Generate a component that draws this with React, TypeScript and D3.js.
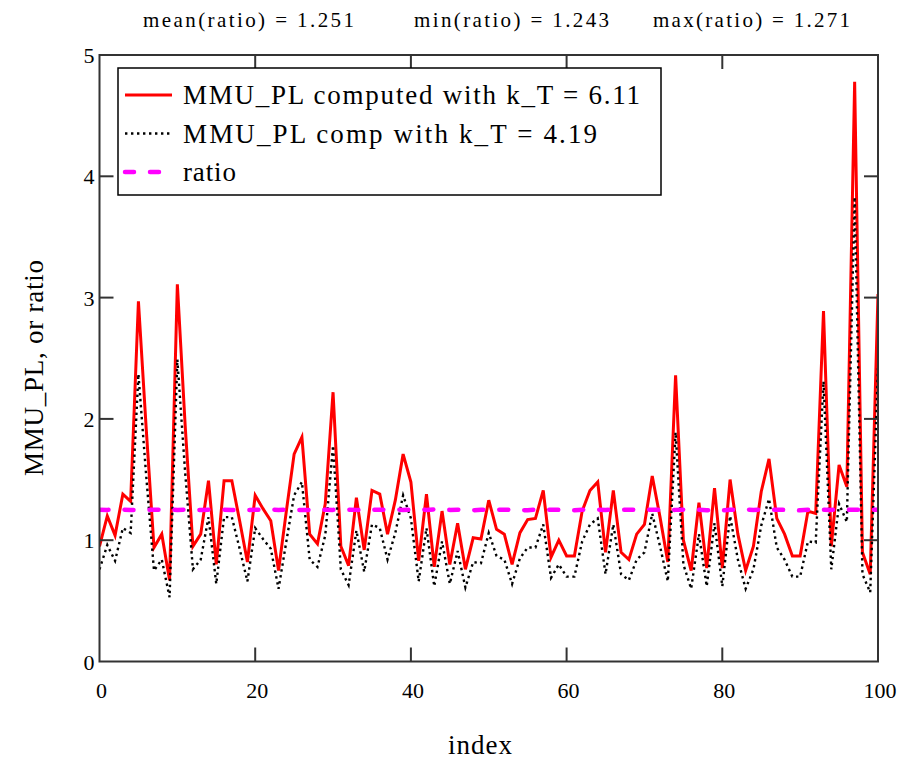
import React from 'react'
import * as d3 from 'd3'

// MMU_PL computed with k_T = 6.11 (red), one value per index 0..100
const mmuHigh = [
  0.95, 1.2, 1.04, 1.38, 1.32, 2.97, 1.92, 0.94, 1.05, 0.67,
  3.11, 1.95, 0.95, 1.05, 1.49, 0.8, 1.49, 1.49, 1.16, 0.82,
  1.37, 1.26, 1.16, 0.75, 1.24, 1.71, 1.85, 1.05, 0.97, 1.3,
  2.22, 0.95, 0.79, 1.35, 0.92, 1.41, 1.38, 1.05, 1.33, 1.71,
  1.48, 0.83, 1.38, 0.78, 1.24, 0.8, 1.14, 0.76, 1.02, 1.01,
  1.33, 1.09, 1.05, 0.8, 1.06, 1.17, 1.18, 1.41, 0.86, 1.0,
  0.87, 0.87, 1.24, 1.41, 1.48, 0.9, 1.41, 0.9, 0.84, 1.05,
  1.13, 1.53, 1.19, 0.82, 2.36, 1.0, 0.75, 1.31, 0.77, 1.43,
  0.77, 1.5, 1.05, 0.75, 0.95, 1.4, 1.67, 1.18, 1.05, 0.87,
  0.87, 1.24, 1.22, 2.89, 0.95, 1.62, 1.44, 4.78, 0.9, 0.72,
  3.03,
]

// MMU_PL comp with k_T = 4.19 (black dotted)
const mmuLow = [
  0.76, 0.96, 0.83, 1.10, 1.06, 2.37, 1.53, 0.75, 0.84, 0.53,
  2.49, 1.56, 0.76, 0.84, 1.19, 0.64, 1.19, 1.19, 0.93, 0.66,
  1.10, 1.01, 0.93, 0.60, 0.99, 1.37, 1.48, 0.84, 0.78, 1.04,
  1.78, 0.76, 0.63, 1.08, 0.74, 1.13, 1.10, 0.84, 1.06, 1.37,
  1.18, 0.66, 1.10, 0.62, 0.99, 0.64, 0.91, 0.61, 0.82, 0.81,
  1.06, 0.87, 0.84, 0.64, 0.85, 0.94, 0.94, 1.13, 0.69, 0.80,
  0.70, 0.70, 0.99, 1.13, 1.18, 0.72, 1.13, 0.72, 0.67, 0.84,
  0.90, 1.22, 0.95, 0.66, 1.89, 0.80, 0.60, 1.05, 0.62, 1.14,
  0.62, 1.20, 0.84, 0.60, 0.76, 1.12, 1.34, 0.94, 0.84, 0.70,
  0.70, 0.99, 0.98, 2.31, 0.76, 1.30, 1.15, 3.83, 0.72, 0.57,
  2.42,
]

// ratio of the two, nearly flat
const ratio = [
  1.251, 1.250, 1.252, 1.251, 1.249, 1.250, 1.252, 1.251, 1.250, 1.253,
  1.249, 1.251, 1.250, 1.250, 1.252, 1.250, 1.251, 1.249, 1.250, 1.248,
  1.251, 1.250, 1.252, 1.250, 1.251, 1.250, 1.249, 1.250, 1.247, 1.251,
  1.250, 1.252, 1.251, 1.250, 1.246, 1.250, 1.251, 1.250, 1.252, 1.250,
  1.251, 1.253, 1.250, 1.254, 1.251, 1.250, 1.252, 1.250, 1.247, 1.251,
  1.250, 1.251, 1.252, 1.250, 1.249, 1.247, 1.253, 1.250, 1.251, 1.250,
  1.246, 1.247, 1.251, 1.250, 1.252, 1.250, 1.251, 1.250, 1.251, 1.250,
  1.253, 1.251, 1.250, 1.247, 1.250, 1.252, 1.250, 1.251, 1.247, 1.250,
  1.246, 1.251, 1.250, 1.252, 1.250, 1.251, 1.250, 1.252, 1.250, 1.247,
  1.246, 1.251, 1.247, 1.251, 1.250, 1.252, 1.250, 1.251, 1.250, 1.253,
  1.251,
]

const xTicks = [0, 20, 40, 60, 80, 100]
const yTicks = [0, 1, 2, 3, 4, 5]

const stats = [
  {label: 'mean(ratio) = 1.251', x: 143, len: 211},
  {label: 'min(ratio) = 1.243', x: 414, len: 195},
  {label: 'max(ratio) = 1.271', x: 653, len: 197},
]

const legendItems = [
  {label: 'MMU_PL computed with k_T = 6.11', len: 457, stroke: '#ff0000', width: 3, dash: null, cap: 'butt'},
  {label: 'MMU_PL comp with k_T = 4.19', len: 414, stroke: '#000000', width: 2.4, dash: '2.4,3.6', cap: 'butt'},
  {label: 'ratio', len: 53, stroke: '#ff00ff', width: 4.5, dash: '9,16', cap: 'round'},
]

const width = 902
const height = 764
const margin = {top: 55, right: 24, bottom: 102.5, left: 99.5}
const font = '"Liberation Serif", "Times New Roman", serif'

export default function App() {
  const x = d3.scaleLinear().domain([0, 100]).range([margin.left, width - margin.right])
  const y = d3.scaleLinear().domain([0, 5]).range([height - margin.bottom, margin.top])
  const idx = d3.range(mmuHigh.length)

  const line = d3.line<number>()
    .x(i => x(i))

  const redPath = line.y(i => y(mmuHigh[i]))(idx)
  const blackPath = line.y(i => y(mmuLow[i]))(idx)
  const ratioPath = line.y(i => y(ratio[i]))(idx)

  const [x0, x1] = x.range()
  const [y0, y1] = y.range()
  const tickLen = 14

  return (
    <svg width={width} height={height} style={{position: 'absolute', left: 0, top: 0, background: '#fff'}}
         fontFamily={font}>
      <defs>
        <clipPath id="plot-clip">
          <rect x={x0} y={y1} width={x1 - x0} height={y0 - y1}/>
        </clipPath>
      </defs>

      {stats.map(s => (
        <text key={s.label} x={s.x} y={27} fontSize={21} textLength={s.len} lengthAdjust="spacing">{s.label}</text>
      ))}

      <g clipPath="url(#plot-clip)" fill="none">
        <path d={redPath!} stroke="#ff0000" strokeWidth={3} strokeLinejoin="miter"/>
        <path d={blackPath!} stroke="#000" strokeWidth={2.4} strokeDasharray="2.4,3.6"/>
        <path d={ratioPath!} stroke="#ff00ff" strokeWidth={4.5} strokeDasharray="9,16" strokeLinecap="round"/>
      </g>

      {/* frame and inner ticks */}
      <rect x={x0} y={y1} width={x1 - x0} height={y0 - y1} fill="none" stroke="#333" strokeWidth={2}/>
      <g stroke="#333" strokeWidth={2}>
        {yTicks.slice(1, -1).map(t => (
          <g key={'y' + t}>
            <line x1={x0} x2={x0 + tickLen} y1={y(t)} y2={y(t)}/>
            <line x1={x1} x2={x1 - tickLen} y1={y(t)} y2={y(t)}/>
          </g>
        ))}
        {xTicks.slice(1, -1).map(t => (
          <g key={'x' + t}>
            <line x1={x(t)} x2={x(t)} y1={y0} y2={y0 - tickLen}/>
            <line x1={x(t)} x2={x(t)} y1={y1} y2={y1 + tickLen}/>
          </g>
        ))}
      </g>

      <g fontSize={22}>
        {yTicks.map(t => (
          <text key={'yl' + t} x={x0 - 5} y={y(t) + 8} textAnchor="end">{t}</text>
        ))}
        {xTicks.map(t => (
          <text key={'xl' + t} x={x(t) + 2} y={698} textAnchor="middle">{t}</text>
        ))}
      </g>

      <text x={480} y={754} fontSize={27} textAnchor="middle" textLength={64} lengthAdjust="spacing">index</text>
      <text transform="translate(43,368) rotate(-90)" fontSize={27} textAnchor="middle"
            textLength={216} lengthAdjust="spacing">MMU_PL, or ratio</text>

      {/* legend */}
      <g>
        <rect x={118} y={68} width={543} height={127} fill="#fff" stroke="#000" strokeWidth={1.5}/>
        {legendItems.map((d, i) => {
          const ly = 95 + i * 38.5
          return (
            <g key={d.label}>
              <line x1={125} x2={172} y1={ly} y2={ly} stroke={d.stroke} strokeWidth={d.width}
                    strokeDasharray={d.dash ?? undefined} strokeLinecap={d.cap as any}/>
              <text x={183} y={ly + 9} fontSize={27} textLength={d.len} lengthAdjust="spacing">{d.label}</text>
            </g>
          )
        })}
      </g>
    </svg>
  )
}
